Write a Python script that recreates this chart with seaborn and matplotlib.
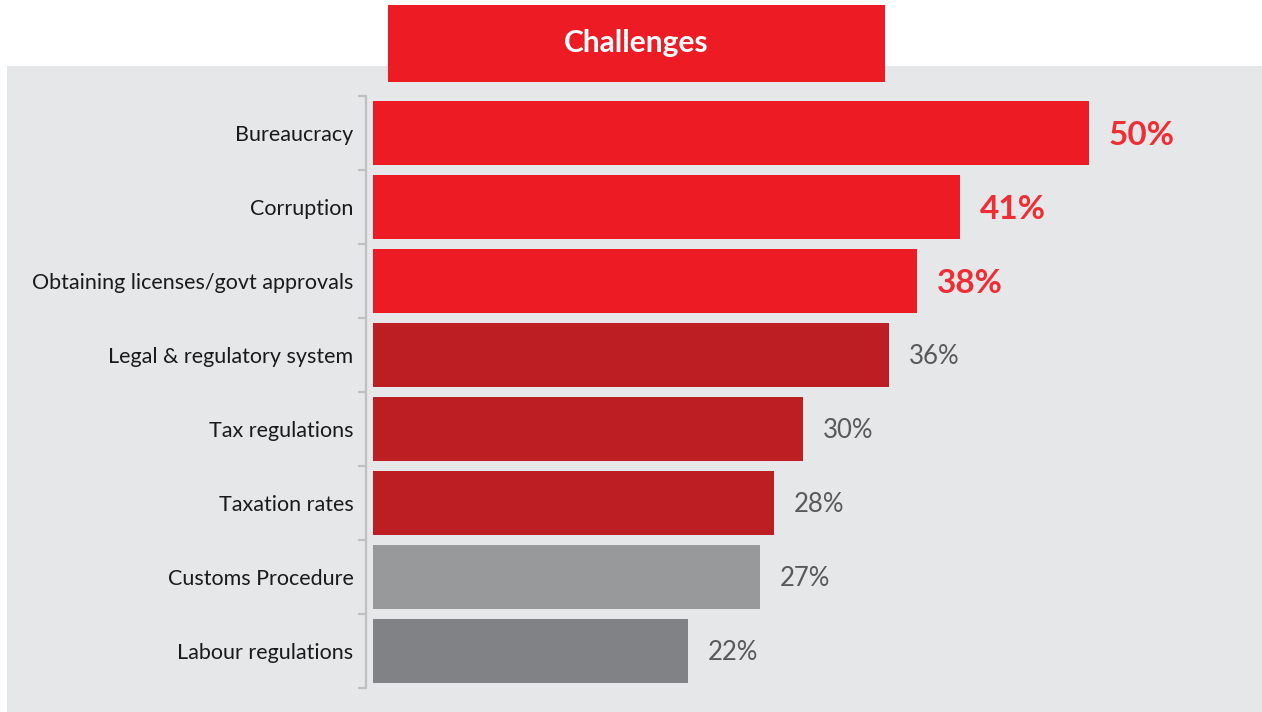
import matplotlib
matplotlib.use("Agg")
import matplotlib.pyplot as plt
from matplotlib.patches import Rectangle
from matplotlib.ticker import FixedLocator
import seaborn as sns

categories = [
    "Bureaucracy",
    "Corruption",
    "Obtaining licenses/govt approvals",
    "Legal & regulatory system",
    "Tax regulations",
    "Taxation rates",
    "Customs Procedure",
    "Labour regulations",
]
values = [50, 41, 38, 36, 30, 28, 27, 22]
bar_colors = ["#ED1C24", "#ED1C24", "#ED1C24",
              "#BD1E24", "#BD1E24", "#BD1E24",
              "#98999B", "#808285"]
highlight = [True, True, True, False, False, False, False, False]
title = "Challenges"

sns.set_theme(style="white")
plt.rcParams["font.family"] = ["Lato", "DejaVu Sans"]

W, H, DPI = 1262, 712, 100
fig = plt.figure(figsize=(W / DPI, H / DPI), dpi=DPI)
fig.patch.set_facecolor("white")

def px_rect(x0, y0, x1, y1):
    # pixel box (top-left origin) -> figure fraction [left, bottom, width, height]
    return [x0 / W, 1 - y1 / H, (x1 - x0) / W, (y1 - y0) / H]

# grey panel behind the chart
l, b, w, h = px_rect(7, 66, 1262, 712)
fig.patches.append(Rectangle((l, b), w, h, transform=fig.transFigure,
                             facecolor="#E6E7E8", edgecolor="none", zorder=-10))

# red title box
l, b, w, h = px_rect(388, 5, 885, 82)
fig.patches.append(Rectangle((l, b), w, h, transform=fig.transFigure,
                             facecolor="#ED1C24", edgecolor="none", zorder=-5))
fig.text((388 + 885) / 2 / W, 1 - 43 / H, title, color="white",
         fontsize=21.5, fontweight="bold", ha="center", va="center", zorder=2)

ax = fig.add_axes(px_rect(366, 96, 1262, 688))
ax.set_facecolor("none")

sns.barplot(x=values, y=categories, hue=categories, palette=bar_colors,
            orient="h", width=0.865, legend=False, ax=ax, saturation=1,
            linewidth=0, edgecolor="none")

ax.set_xlim(-0.49, 62.08)
ax.set_ylim(len(categories) - 0.5, -0.5)
ax.set_xlabel("")
ax.set_ylabel("")
ax.set_xticks([])

for s in ["top", "right", "bottom"]:
    ax.spines[s].set_visible(False)
ax.spines["left"].set_color("#C0C0C0")
ax.spines["left"].set_linewidth(1.6)

ax.tick_params(axis="y", which="major", length=0, pad=9, labelsize=15.5,
               labelcolor="#1A1A1A")
ax.yaxis.set_minor_locator(FixedLocator([i - 0.5 for i in range(len(categories) + 1)]))
ax.tick_params(axis="y", which="minor", length=6, width=1.6, color="#C0C0C0", left=True)

for i, (v, hl) in enumerate(zip(values, highlight)):
    if hl:
        ax.annotate(f"{v}%", xy=(v, i), xytext=(20, -12), textcoords="offset pixels",
                    ha="left", va="baseline", fontsize=24, fontweight="bold",
                    color="#EE2E35")
    else:
        ax.annotate(f"{v}%", xy=(v, i), xytext=(20, -9), textcoords="offset pixels",
                    ha="left", va="baseline", fontsize=18.5, color="#595959")

fig.savefig("out.png", dpi=DPI, facecolor=fig.get_facecolor())
